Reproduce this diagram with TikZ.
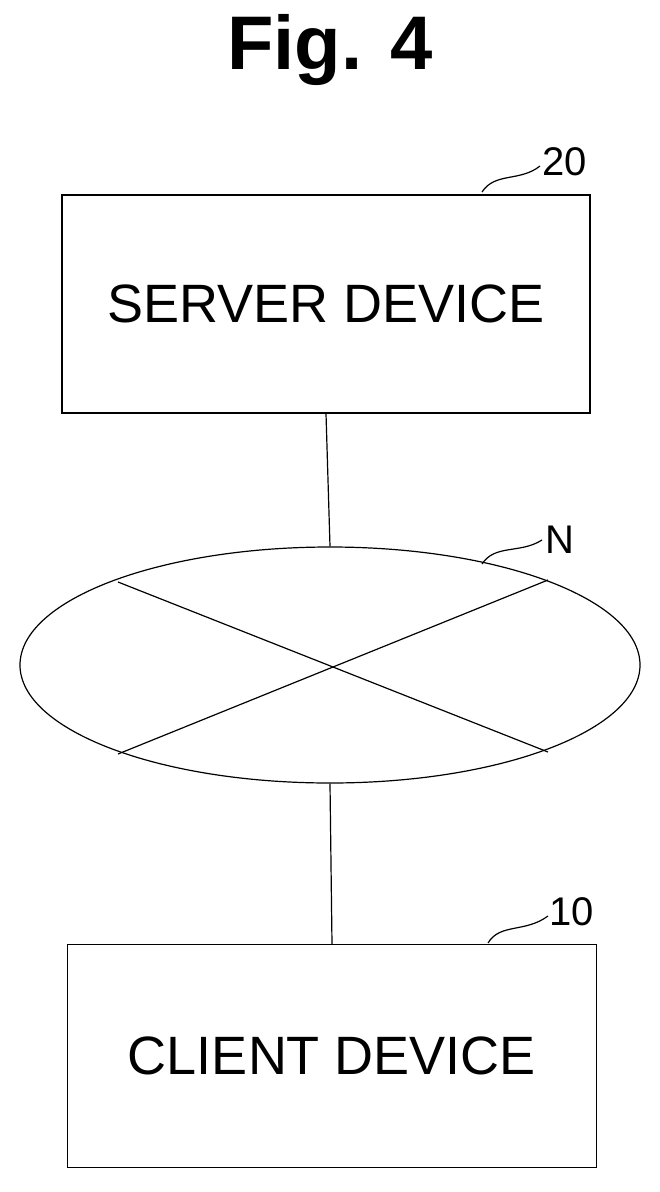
\documentclass[tikz,border=0pt]{standalone}
\usepackage{fontspec}
\setmainfont{Liberation Sans}
\usetikzlibrary{shapes.geometric}
\begin{document}
\begin{tikzpicture}[x=1pt,y=-1pt,line width=1.2pt,
  boxst/.style={draw,minimum width=528pt,minimum height=218pt,font=\fontsize{54}{60}\selectfont,inner sep=0pt},
  lbl/.style={font=\fontsize{40}{44}\selectfont,inner sep=0pt}]
\useasboundingbox (0,0) rectangle (659,1192);
\node[font=\bfseries\fontsize{76}{80}\selectfont] (title) at (330,50) {Fig. 4};
\node[boxst] (srv) at (326,304) {SERVER DEVICE};
\node[boxst,minimum width=529pt,minimum height=223pt] (cli) at (332,1056) {CLIENT DEVICE};
\node[draw,ellipse,minimum width=620pt,minimum height=236pt,inner sep=0pt] (net) at (330,665) {};
\coordinate (a1) at (118,582); \coordinate (a2) at (548,752);
\coordinate (b1) at (118,754); \coordinate (b2) at (548,580);
\draw (a1) -- (a2); \draw (b1) -- (b2);
\draw (srv.south) -- (net.north);
\draw (net.south) -- (cli.north);
\node[lbl] (l20) at (565,162) {20};
\node[lbl] (lN) at (560,540) {N};
\node[lbl] (l10) at (572,912) {10};
\draw (482,192) .. controls (495,172) and (520,182) .. (540,166);
\draw (482,564) .. controls (495,544) and (520,554) .. (542,540);
\draw (488,943) .. controls (500,923) and (525,933) .. (548,916);
\end{tikzpicture}
\end{document}
